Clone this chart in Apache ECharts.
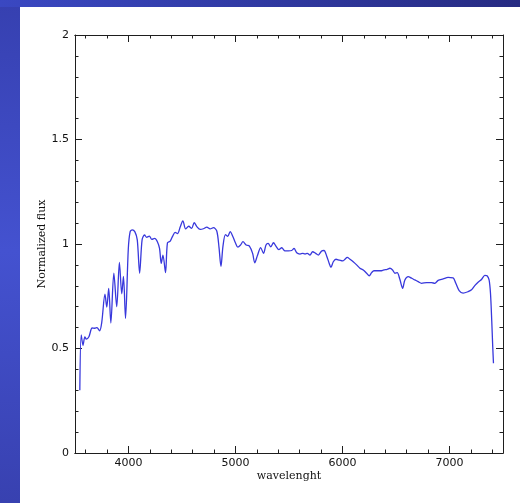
<!DOCTYPE html>
<html>
<head>
<meta charset="utf-8">
<script src="https://cdn.jsdelivr.net/npm/echarts@6/dist/echarts.min.js"></script>
<style>
  html, body { margin: 0; padding: 0; background: #ffffff; }
  #chart { width: 520px; height: 503px; }
</style>
</head>
<body>
<div id="chart"></div>
<script>
// Spectrum samples: wavelength (Angstrom) and normalized flux
const wavelength = [
  3545, 3558, 3575, 3592, 3606, 3630, 3660, 3685, 3705, 3730,
  3750, 3780, 3797, 3815, 3835, 3863, 3890, 3915, 3937, 3953,
  3972, 3998, 4015, 4035, 4060, 4082, 4104, 4127, 4150, 4170,
  4195, 4218, 4245, 4270, 4290, 4306, 4322, 4346, 4364, 4390,
  4413, 4436, 4458, 4483, 4508, 4534, 4563, 4590, 4614, 4639,
  4670, 4700, 4732, 4763, 4794, 4825, 4846, 4864, 4883, 4906,
  4928, 4950, 4975, 5000, 5022, 5047, 5070, 5100, 5130, 5160,
  5180, 5205, 5235, 5262, 5285, 5305, 5330, 5355, 5378, 5405,
  5432, 5463, 5494, 5525, 5547, 5572, 5603, 5628, 5650, 5671,
  5696, 5721, 5749, 5774, 5805, 5827, 5852, 5876, 5892, 5914,
  5939, 5970, 6002, 6023, 6044, 6070, 6100, 6132, 6163, 6194,
  6225, 6250, 6272, 6294, 6324, 6356, 6387, 6418, 6443, 6468,
  6490, 6511, 6536, 6562, 6583, 6614, 6646, 6676, 6707, 6739,
  6786, 6832, 6863, 6894, 6941, 6987, 7034, 7059, 7090, 7127,
  7174, 7206, 7236, 7267, 7299, 7330, 7351, 7370, 7383, 7395,
  7404, 7411
];
const flux = [
  0.300, 0.565, 0.515, 0.556, 0.545, 0.556, 0.598, 0.597, 0.600, 0.585,
  0.625, 0.760, 0.698, 0.788, 0.622, 0.860, 0.700, 0.912, 0.762, 0.845,
  0.644, 0.975, 1.058, 1.068, 1.058, 1.020, 0.860, 1.020, 1.043, 1.032,
  1.038, 1.022, 1.027, 1.011, 0.979, 0.907, 0.947, 0.863, 1.005, 1.014,
  1.038, 1.056, 1.050, 1.081, 1.111, 1.072, 1.085, 1.075, 1.102, 1.083,
  1.070, 1.073, 1.081, 1.072, 1.078, 1.062, 0.983, 0.893, 0.990, 1.045,
  1.037, 1.059, 1.036, 1.005, 0.985, 0.995, 1.011, 0.995, 0.990, 0.955,
  0.910, 0.945, 0.983, 0.955, 0.995, 1.003, 0.986, 1.006, 0.990, 0.973,
  0.982, 0.967, 0.967, 0.969, 0.979, 0.958, 0.952, 0.955, 0.952, 0.955,
  0.947, 0.963, 0.955, 0.947, 0.967, 0.969, 0.943, 0.907, 0.888, 0.915,
  0.927, 0.923, 0.919, 0.927, 0.936, 0.927, 0.915, 0.900, 0.884, 0.876,
  0.860, 0.848, 0.863, 0.872, 0.872, 0.872, 0.876, 0.879, 0.884, 0.876,
  0.860, 0.863, 0.831, 0.788, 0.828, 0.844, 0.836, 0.828, 0.820, 0.812,
  0.815, 0.815, 0.812, 0.826, 0.833, 0.840, 0.838, 0.812, 0.777, 0.765,
  0.772, 0.781, 0.801, 0.817, 0.830, 0.850, 0.848, 0.828, 0.764, 0.630,
  0.509, 0.429
];

// Axis ticks and labels
const xLabels = [4000, 5000, 6000, 7000];
const xMinorTicks = [3600, 3800, 4000, 4200, 4400, 4600, 4800, 5000, 5200, 5400,
                     5600, 5800, 6000, 6200, 6400, 6600, 6800, 7000, 7200, 7400];
const yLabels = [0, 0.5, 1, 1.5, 2];

const FRAME = '#1e1e1e';
const labelFont = { fontFamily: 'DejaVu Sans', fontSize: 11, color: '#111' };
const nameFont = { fontFamily: 'DejaVu Serif', fontSize: 11, color: '#111' };

function xAxisDef(position, ticks, len, withLabels) {
  return {
    type: 'value', position: position, min: 3500, max: 7500,
    axisLine: { show: true, onZero: false, lineStyle: { color: FRAME, width: 1 } },
    axisTick: { show: true, inside: true, length: len, customValues: ticks,
                lineStyle: { color: FRAME, width: 1 } },
    axisLabel: withLabels
      ? Object.assign({ show: true, customValues: xLabels, margin: 5,
                        formatter: v => String(v) }, labelFont)
      : { show: false },
    splitLine: { show: false }
  };
}

function yAxisDef(position, withLabels) {
  return {
    type: 'value', position: position, min: 0, max: 2, interval: 0.5,
    axisLine: { show: true, onZero: false, lineStyle: { color: FRAME, width: 1 } },
    axisTick: { show: true, inside: true, length: 7, lineStyle: { color: FRAME, width: 1 } },
    minorTick: { show: true, splitNumber: 5, length: 3.5, lineStyle: { color: FRAME, width: 1 } },
    axisLabel: withLabels
      ? Object.assign({ show: true, margin: 6, customValues: yLabels,
                        formatter: v => String(v) }, labelFont)
      : { show: false },
    splitLine: { show: false },
    minorSplitLine: { show: false }
  };
}

const xBottom = xAxisDef('bottom', xMinorTicks, 3.5, true);
xBottom.name = 'wavelenght';
xBottom.nameLocation = 'middle';
xBottom.nameGap = 18;
xBottom.nameMoveOverlap = false;
xBottom.nameTextStyle = nameFont;

const yLeft = yAxisDef('left', true);
yLeft.name = 'Normalized flux';
yLeft.nameLocation = 'middle';
yLeft.nameGap = 27;
yLeft.nameMoveOverlap = false;
yLeft.nameTextStyle = nameFont;

const chart = echarts.init(document.getElementById('chart'), null, { renderer: 'canvas' });
chart.setOption({
  animation: false,
  backgroundColor: '#ffffff',
  graphic: [
    {
      type: 'rect', z: -10, silent: true,
      shape: { x: 0, y: 0, width: 20, height: 503 },
      style: { fill: new echarts.graphic.LinearGradient(0, 0, 0, 1, [
        { offset: 0, color: '#3640b0' },
        { offset: 0.5, color: '#4452d0' },
        { offset: 1, color: '#3841b0' }
      ]) }
    },
    {
      type: 'rect', z: -9, silent: true,
      shape: { x: 0, y: 0, width: 520, height: 7 },
      style: { fill: new echarts.graphic.LinearGradient(0, 0, 1, 0, [
        { offset: 0, color: '#3a48c2' },
        { offset: 1, color: '#262b82' }
      ]) }
    }
  ],
  grid: { left: 75, right: 17, top: 35, bottom: 50, containLabel: false },
  xAxis: [
    xBottom,
    xAxisDef('bottom', xLabels, 7, false),
    xAxisDef('top', xMinorTicks, 3.5, false),
    xAxisDef('top', xLabels, 7, false)
  ],
  yAxis: [
    yLeft,
    yAxisDef('right', false)
  ],
  series: [{
    type: 'line',
    xAxisIndex: 0,
    yAxisIndex: 0,
    data: wavelength.map((w, i) => [w, flux[i]]),
    showSymbol: false,
    smooth: 0.3,
    lineStyle: { color: '#3838dc', width: 1.3 }
  }]
});
</script>
</body>
</html>
